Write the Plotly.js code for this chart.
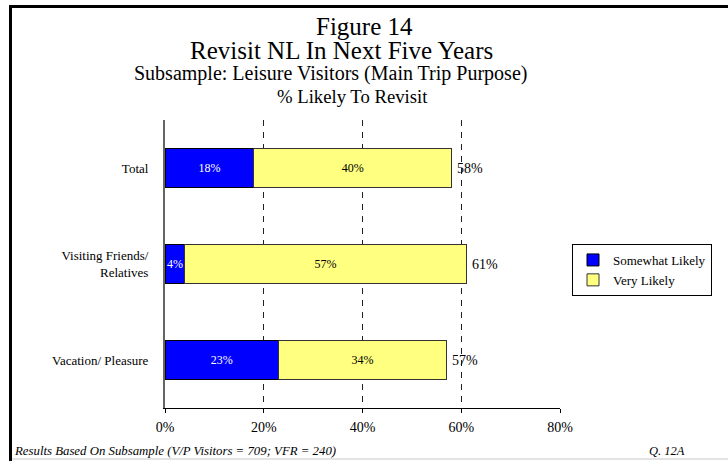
<!DOCTYPE html>
<html><head><meta charset="utf-8">
<script src="https://cdn.plot.ly/plotly-3.0.1.min.js"></script>
<style>html,body{margin:0;padding:0;background:#fff}#chart{width:728px;height:461px}</style>
</head><body><div id="chart"></div>
<script>
// ---- data ----
const categories = ["Total", "Visiting Friends/<br>Relatives", "Vacation/ Pleasure"];
const somewhatLikely = [18, 4, 23];
const veryLikely = [40, 57, 34];
const totals = [58, 61, 57];
const seriesNames = ["Somewhat Likely", "Very Likely"];
const xTickValues = [0, 20, 40, 60, 80];
const xTickLabels = ["0%", "20%", "40%", "60%", "80%"];
const titleLines = ["Figure 14", "Revisit NL In Next Five Years",
  "Subsample: Leisure Visitors (Main Trip Purpose)", "% Likely To Revisit"];
const footLeft = "Results Based On Subsample (V/P Visitors = 709; VFR = 240)";
const footRight = "Q. 12A";

// ---- layout geometry ----
const W = 728, H = 461;
const ML = 165, MR = 168, MT = 120, MB = 53;
const PW = W - ML - MR, PH = H - MT - MB;
const PX = px => (px - ML) / PW;
const PY = py => (MT + PH - py) / PH;
const FONT = '"Liberation Serif", "Times New Roman", Times, serif';
const pct = v => v + "%";

const traces = [
  {
    type: "bar", orientation: "h", name: seriesNames[0],
    y: categories, x: somewhatLikely,
    text: somewhatLikely.map(pct), textposition: "inside", insidetextanchor: "middle",
    textangle: 0, constraintext: "none",
    textfont: {family: FONT, size: 12, color: "#ffffff"},
    marker: {color: "#0000ff", line: {color: "#000000", width: 1}},
    width: 0.4, hoverinfo: "skip"
  },
  {
    type: "bar", orientation: "h", name: seriesNames[1],
    y: categories, x: veryLikely,
    text: veryLikely.map(pct), textposition: "inside", insidetextanchor: "middle",
    textangle: 0, constraintext: "none",
    textfont: {family: FONT, size: 12, color: "#000000"},
    marker: {color: "#ffff80", line: {color: "#333333", width: 1}},
    width: 0.4, hoverinfo: "skip"
  }
];

const annotations = [];
const titleSpecs = [
  {cx: 364, cy: 26, size: 25},
  {cx: 341, cy: 50, size: 25},
  {cx: 330, cy: 73, size: 20},
  {cx: 352, cy: 97, size: 18.7}
];
titleLines.forEach((t, i) => {
  const s = titleSpecs[i];
  annotations.push({
    text: t, xref: "paper", yref: "paper", x: PX(s.cx), y: PY(s.cy),
    xanchor: "center", yanchor: "middle", showarrow: false,
    font: {family: FONT, size: s.size, color: "#000"}
  });
});
categories.forEach((c, i) => {
  annotations.push({
    text: pct(totals[i]), x: totals[i], y: c, xref: "x", yref: "y",
    xanchor: "left", yanchor: "middle", xshift: 4, showarrow: false,
    font: {family: FONT, size: 14, color: "#000"}
  });
});
annotations.push({
  text: "<i>" + footLeft + "</i>", xref: "paper", yref: "paper",
  x: PX(12), y: PY(451), xanchor: "left", yanchor: "middle", showarrow: false,
  font: {family: FONT, size: 12.8, color: "#000"}
});
annotations.push({
  text: "<i>" + footRight + "</i>", xref: "paper", yref: "paper",
  x: PX(647), y: PY(451), xanchor: "left", yanchor: "middle", showarrow: false,
  font: {family: FONT, size: 12.5, color: "#000"}
});

const shapes = [
  {type: "rect", xref: "paper", yref: "paper", x0: PX(9), x1: PX(12), y0: PY(H), y1: PY(5),
   fillcolor: "#000", line: {width: 0}, layer: "above"},
  {type: "rect", xref: "paper", yref: "paper", x0: PX(9), x1: PX(W), y0: PY(8), y1: PY(5),
   fillcolor: "#000", line: {width: 0}, layer: "above"},
  {type: "line", xref: "paper", yref: "paper", x0: PX(12), x1: PX(W), y0: PY(459), y1: PY(459),
   line: {color: "#c8c8c8", width: 1}, layer: "above"}
];

const layout = {
  width: W, height: H,
  margin: {l: ML, r: MR, t: MT, b: MB, pad: 0},
  paper_bgcolor: "#fff", plot_bgcolor: "#fff",
  barmode: "stack", bargap: 0.6,
  font: {family: FONT, size: 13, color: "#000"},
  showlegend: true,
  legend: {
    x: PX(572), y: PY(244), xanchor: "left", yanchor: "top",
    bordercolor: "#000", borderwidth: 1, bgcolor: "#fff",
    traceorder: "normal", font: {family: FONT, size: 13, color: "#000"},
    itemclick: false, itemdoubleclick: false
  },
  xaxis: {
    range: [0, 80], tickvals: xTickValues, ticktext: xTickLabels,
    showgrid: true, gridcolor: "#222", griddash: "6px,6px", gridwidth: 1,
    zeroline: false, showline: true, linecolor: "#000", linewidth: 1,
    ticks: "outside", ticklen: 4, tickcolor: "#000", tickwidth: 1,
    tickfont: {family: FONT, size: 14, color: "#000"}, ticklabelstandoff: 2,
    fixedrange: true
  },
  yaxis: {
    type: "category", categoryorder: "array", categoryarray: categories,
    range: [2.5, -0.5], showgrid: false, zeroline: false,
    showline: true, linecolor: "#666", linewidth: 2,
    ticks: "", ticklabelstandoff: 12,
    tickfont: {family: FONT, size: 13, color: "#000"},
    fixedrange: true
  },
  annotations: annotations,
  shapes: shapes
};

Plotly.newPlot("chart", traces, layout, {displayModeBar: false, staticPlot: true});
</script></body></html>
